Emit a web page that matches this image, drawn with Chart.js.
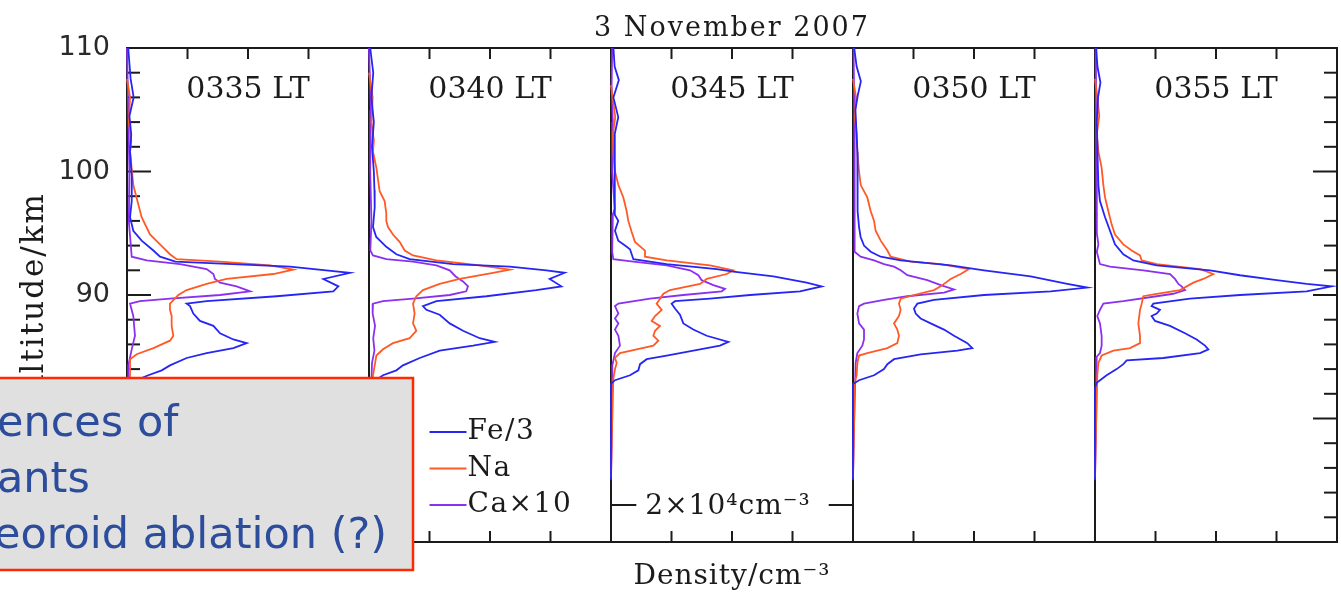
<!DOCTYPE html>
<html>
<head>
<meta charset="utf-8">
<title>3 November 2007</title>
<script src="https://cdn.jsdelivr.net/npm/chart.js@4.4.0/dist/chart.umd.min.js"></script>
<style>
  html, body { margin: 0; padding: 0; background: #fff; }
  #wrap { position: relative; width: 1341px; height: 592px; overflow: hidden; }
</style>
</head>
<body>
<div id="wrap"><canvas id="chart" width="1341" height="592"></canvas></div>
<script>
// values, each point = [altitude km, density cm^-3]
const chartTitle = '3 November 2007';
const panelTimes = ['0335 LT', '0340 LT', '0345 LT', '0350 LT', '0355 LT'];
const species = ['Fe/3', 'Na', 'Ca×10'];
const altTicks = [70, 80, 90, 100, 110];
const densityTicks = [5000, 10000, 15000];
const densityMax = 20000;
const scaleBarText = '2×10⁴cm⁻³';
const xTitle = 'Density/cm⁻³';
const yTitle = 'Altitude/km';
const noteLines = ['ences of', 'ants', 'eoroid ablation (?)'];

const fe0335 = [[110,100],[107.5,300],[106,550],[104.5,200],[103,350],[101.6,250],[99.5,400],[97.6,390],[96.3,250],[95.2,520],[94.4,1210],[93.6,2180],[93.1,2730],[92.7,4000],[92.3,13470],[91.8,18430],[91.3,16230],[90.7,17470],[90.3,17050],[89.9,12370],[89.5,6580],[89.3,4930],[89.1,5210],[88.5,5480],[87.9,6030],[87.5,7140],[86.9,7690],[86.4,8790],[86.1,9890],[85.7,8790],[85.3,6580],[84.9,4930],[84.3,3550],[83.9,2870],[83.5,1760],[83.0,500],[82.5,0],[75,0]];
const na0335 = [[107.5,0],[106,250],[104,150],[102.5,350],[101.6,250],[98.9,520],[96.3,1210],[94.9,1900],[94.1,2730],[93.3,3550],[92.9,4100],[92.7,7690],[92.4,11820],[92.05,13750],[91.7,12090],[91.3,8240],[90.9,6580],[90.4,4930],[90.0,4240],[89.3,3550],[88.8,3550],[88.3,3690],[87.5,3690],[86.7,3830],[86.3,3550],[85.7,2180],[85.2,800],[84.8,250],[83.5,250],[80,100],[75,0]];
const ca0335 = [[110,0],[105,100],[100,200],[96,150],[93.1,390],[92.8,1630],[92.5,4380],[92.1,6580],[91.7,7140],[91.3,7270],[91.0,7690],[90.7,9060],[90.3,10170],[90.0,7690],[89.7,3550],[89.5,1070],[89.3,250],[88.3,520],[86.7,660],[85.6,390],[84.3,110],[80,100],[75,0]];

const fe0340 = [[110,100],[108,350],[106,200],[104,400],[102,250],[100,400],[98.5,450],[97.1,470],[95.5,330],[94.7,600],[93.9,1430],[93.3,2260],[92.9,3360],[92.5,6940],[92.3,11630],[92.0,14660],[91.8,16170],[91.3,14930],[90.7,15900],[90.4,13830],[89.9,9700],[89.5,5570],[89.1,4460],[88.8,4740],[88.4,5840],[87.7,6670],[87.1,7770],[86.5,9150],[86.2,10390],[85.9,8600],[85.5,5840],[84.9,4190],[84.3,2810],[83.9,2260],[83.5,1160],[83.0,400],[82.5,0],[75,0]];
const na0340 = [[108,0],[106,300],[104,200],[102.5,400],[101.6,330],[100.3,610],[98.4,880],[97.6,1290],[96.6,1430],[96.0,1430],[95.5,1570],[94.9,1980],[94.3,2530],[93.6,2950],[93.2,3640],[92.8,5570],[92.4,9150],[92.05,11630],[91.8,10250],[91.3,7490],[90.9,5840],[90.4,4460],[89.9,3910],[89.3,3640],[88.5,3770],[87.7,3640],[87.1,3910],[86.5,3360],[86.1,1980],[85.6,1160],[85.1,610],[84.3,470],[83.5,330],[80,150],[75,0]];
const ca0340 = [[110,0],[105,150],[100,100],[96,200],[93.6,110],[93.2,330],[92.9,1430],[92.7,3640],[92.4,5570],[92.0,6670],[91.5,7160],[91.1,7770],[90.7,8180],[90.3,8040],[90.0,6670],[89.7,3640],[89.5,1160],[89.3,330],[88.5,300],[87.5,500],[86.5,350],[85.5,450],[84.5,250],[80,100],[75,0]];

const fe0345 = [[110,200],[108.5,300],[107.4,650],[106,200],[104.4,600],[103,300],[101.6,330],[98,280],[96.5,330],[96.0,600],[95.2,330],[94.4,600],[94.0,1160],[93.7,1570],[93.3,1710],[92.9,1850],[92.5,4600],[92.1,8730],[91.9,10110],[91.5,13420],[91.0,16170],[90.7,17410],[90.3,15620],[90.0,11490],[89.7,8180],[89.5,5290],[89.3,5010],[88.9,5290],[88.4,5700],[87.7,5980],[87.2,6800],[86.7,7910],[86.2,9700],[85.9,9010],[85.6,7360],[85.1,4600],[84.8,2950],[84.4,2400],[83.9,2260],[83.5,1570],[83.1,330],[82.8,0],[75,0]];
const na0345 = [[107,0],[105.5,200],[104.4,350],[103,150],[101.6,190],[100.0,330],[98.9,610],[97.9,1020],[96.8,1290],[96.0,1430],[95.1,1710],[94.3,1980],[93.6,2810],[93.1,2810],[92.8,4600],[92.4,8180],[92.0,10110],[91.7,9560],[91.3,7910],[90.9,7360],[90.4,4880],[90.1,4330],[89.7,4050],[89.3,3770],[88.8,4190],[88.3,3640],[87.9,3360],[87.5,4050],[87.1,3640],[86.7,3500],[86.3,3910],[85.9,3500],[85.6,2120],[85.3,740],[84.9,330],[84.5,470],[84.0,330],[83.2,190],[80,100],[75.2,0]];
const ca0345 = [[110,100],[107,50],[104,150],[100,100],[97,300],[96.5,150],[93.5,100],[92.9,190],[92.7,1850],[92.4,4600],[92.0,6530],[91.6,7220],[91.2,7490],[90.8,8460],[90.5,9420],[90.3,9150],[90.0,5980],[89.7,3220],[89.3,610],[89.1,330],[88.5,610],[88.1,330],[87.7,610],[87.2,330],[86.7,610],[85.9,740],[85.3,330],[84.3,110],[80,100],[75.2,0]];

const fe0350 = [[110,100],[108.5,300],[107.3,650],[106.2,400],[105,200],[103,300],[101.6,360],[98.5,400],[96.8,360],[95.5,500],[94.7,630],[94.0,910],[93.5,1460],[93.1,2290],[92.8,3940],[92.4,8070],[92.0,10830],[91.5,14680],[90.9,17710],[90.6,19370],[90.3,16340],[90.0,10830],[89.6,6690],[89.3,5320],[88.9,5040],[88.5,5180],[88.1,5590],[87.7,6420],[87.2,7520],[86.7,8350],[86.1,9450],[85.7,9860],[85.5,8620],[85.2,5590],[84.8,3390],[84.4,2840],[84.0,2560],[83.5,1740],[83.1,500],[82.8,0],[75,0]];
const na0350 = [[107.5,0],[106,250],[104.5,150],[103,300],[101.6,360],[100,500],[98.9,640],[97.9,1180],[96.8,1460],[96.0,1740],[95.2,1870],[94.4,2290],[93.6,2840],[93.1,3110],[92.7,4770],[92.5,7250],[92.1,9590],[91.7,8900],[91.3,8070],[90.9,7520],[90.7,7250],[90.4,6690],[90.0,5040],[89.7,3940],[89.3,3800],[88.8,3940],[88.3,3800],[87.7,3390],[87.2,3660],[86.7,3800],[86.1,3660],[85.7,2840],[85.3,1180],[85.1,500],[84.5,360],[83.5,300],[82.9,140],[80,100],[75.2,0]];
const ca0350 = [[110,50],[105,100],[100,150],[96,100],[93.5,150],[93.1,630],[92.8,1740],[92.5,2560],[92.3,3390],[92.0,3940],[91.6,4490],[91.2,6140],[90.8,7250],[90.45,8350],[90.2,7520],[89.9,4490],[89.6,2560],[89.3,910],[89.1,500],[88.5,360],[87.7,500],[87.2,910],[86.4,910],[85.9,770],[85.3,360],[84.5,220],[80,100],[75.2,0]];

const fe0355 = [[110,100],[108.5,200],[107.2,450],[106,250],[104,150],[102,200],[101.6,200],[98.9,280],[97.6,410],[96.3,830],[95.2,1240],[94.1,1650],[93.3,2340],[92.8,3170],[92.4,5100],[92.0,9500],[91.6,11980],[91.2,15010],[90.9,17490],[90.7,19560],[90.3,17490],[90.0,11980],[89.7,7850],[89.3,4820],[89.1,4680],[88.8,5370],[88.5,5100],[88.3,4680],[87.9,4960],[87.5,6200],[86.9,7440],[86.4,8400],[85.9,9090],[85.6,9370],[85.3,8680],[84.9,5650],[84.7,2620],[84.4,2340],[84.0,1790],[83.5,960],[82.9,140],[82.5,0],[75,0]];
const na0355 = [[107.5,0],[106,200],[104.5,350],[103,150],[101.6,280],[100.3,550],[98.9,690],[97.9,830],[96.8,1100],[95.7,1380],[94.9,1650],[94.1,2340],[93.6,3030],[93.2,3720],[92.8,3860],[92.5,5100],[92.1,8680],[91.7,9780],[91.3,8950],[91.0,8130],[90.7,7580],[90.4,7030],[90.1,5100],[89.9,3990],[89.3,3860],[88.8,3720],[87.7,3580],[86.7,3720],[86.1,3720],[85.7,2890],[85.5,1520],[85.1,550],[84.5,280],[83.5,190],[80,100],[75.2,0]];
const ca0355 = [[110,50],[105,80],[100,100],[95,150],[94.1,280],[93.5,150],[92.5,410],[92.3,1240],[92.0,3990],[91.7,6200],[91.3,6610],[90.9,6890],[90.7,7160],[90.4,7440],[90.1,6470],[89.9,5100],[89.5,2340],[89.3,690],[88.8,410],[88.3,190],[87.7,410],[86.7,550],[85.9,550],[85.3,410],[85.0,140],[80,100],[75.2,0]];

const profiles = [
  [fe0335, na0335, ca0335],
  [fe0340, na0340, ca0340],
  [fe0345, na0345, ca0345],
  [fe0350, na0350, ca0350],
  [fe0355, na0355, ca0355]
];

// styles
const lineColors = ['#2626f4', '#ff5a26', '#8c30f0'];
const ink = '#1b1b1b';
const serif = 'DejaVu Serif';

const datasets = [];
profiles.forEach((panel, i) => {
  panel.forEach((pts, j) => {
    datasets.push({
      label: species[j] + ' ' + panelTimes[i],
      data: pts.map(p => ({x: p[1], y: p[0]})),
      xAxisID: 'x' + i,
      yAxisID: 'y',
      borderColor: lineColors[j],
      borderWidth: 1.8,
      pointRadius: 0,
      showLine: true,
      fill: false,
      tension: 0,
      clip: false
    });
  });
});

const scales = {
  y: {
    type: 'linear',
    position: 'left',
    min: 70,
    max: 110,
    afterBuildTicks: s => { s.ticks = altTicks.map(v => ({value: v})); },
    afterFit: s => { s.width = 127; },
    ticks: { font: {family: 'DejaVu Sans', size: 27}, color: '#2a2a2a', padding: 9 },
    grid: { display: false },
    border: { display: false }
  }
};
panelTimes.forEach((t, i) => {
  scales['x' + i] = {
    type: 'linear',
    position: 'bottom',
    stack: 'panels',
    stackWeight: 1,
    min: 0,
    max: densityMax,
    display: false
  };
});

function seg(ctx, x1, y1, x2, y2) {
  ctx.beginPath();
  ctx.moveTo(x1, y1);
  ctx.lineTo(x2, y2);
  ctx.stroke();
}

function put(ctx, text, x, y, font, align, spacing) {
  ctx.font = font;
  ctx.textAlign = align || 'left';
  ctx.textBaseline = 'alphabetic';
  ctx.letterSpacing = (spacing || 0) + 'px';
  ctx.fillText(text, x, y);
}

// frame + inward ticks, drawn under the profiles
const framePlugin = {
  id: 'frame',
  beforeDatasetsDraw(chart) {
    const {ctx, chartArea: a, scales: sc} = chart;
    const ys = sc.y;
    ctx.save();
    ctx.strokeStyle = ink;
    ctx.lineWidth = 2;
    ctx.strokeRect(a.left, a.top, a.right - a.left, a.bottom - a.top);
    panelTimes.forEach((t, i) => {
      const xs = sc['x' + i];
      if (i > 0) seg(ctx, xs.left, a.top, xs.left, a.bottom);
      densityTicks.forEach(v => {
        const px = xs.getPixelForValue(v);
        seg(ctx, px, a.top, px, a.top + 11);
        seg(ctx, px, a.bottom, px, a.bottom - 11);
      });
    });
    for (let alt = ys.min; alt <= ys.max; alt += 2) {
      const py = ys.getPixelForValue(alt);
      const len = altTicks.includes(alt) ? 24 : 13;
      seg(ctx, a.left, py, a.left + len, py);
      seg(ctx, a.right, py, a.right - len, py);
    }
    ctx.restore();
  }
};

// titles, panel labels, legend and scale bar
const textPlugin = {
  id: 'texts',
  afterDatasetsDraw(chart) {
    const {ctx, chartArea: a, scales: sc} = chart;
    const midX = (a.left + a.right) / 2;
    ctx.save();
    ctx.fillStyle = ink;
    put(ctx, chartTitle, midX, 36, '27px ' + serif, 'center', 2);
    panelTimes.forEach((t, i) => {
      const xs = sc['x' + i];
      put(ctx, t, (xs.left + xs.right) / 2, a.top + 50, '30px ' + serif, 'center', 0);
    });
    put(ctx, xTitle, midX, 584, '28px ' + serif, 'center', 1);

    ctx.save();
    ctx.translate(43, (a.top + a.bottom) / 2);
    ctx.rotate(-Math.PI / 2);
    put(ctx, yTitle, 0, 0, '31px ' + serif, 'center', 2);
    ctx.restore();

    // legend inside the second panel
    const lx = sc.x1.getPixelForValue(densityTicks[0]);
    species.forEach((name, k) => {
      const ly = a.bottom - 110 + k * 36.5;
      ctx.strokeStyle = lineColors[k];
      ctx.lineWidth = 2;
      seg(ctx, lx, ly, lx + 37, ly);
      ctx.fillStyle = ink;
      put(ctx, name, lx + 38, ly + 7, '28px ' + serif, 'left', 1.5);
    });

    // 2x10^4 scale bar spanning the third panel
    const bs = sc.x2;
    const by = a.bottom - 37;
    const bc = (bs.left + bs.right) / 2 - 4;
    ctx.font = '28px ' + serif;
    ctx.letterSpacing = '1px';
    const tw = ctx.measureText(scaleBarText).width;
    ctx.strokeStyle = ink;
    ctx.lineWidth = 2;
    seg(ctx, bs.left, by, bc - tw / 2 - 9, by);
    seg(ctx, bc + tw / 2 + 18, by, bs.right, by);
    put(ctx, scaleBarText, bc, by + 9, '28px ' + serif, 'center', 1);
    ctx.restore();
  }
};

// the grey note box laid over the lower left corner
const notePlugin = {
  id: 'note',
  afterDraw(chart) {
    const ctx = chart.ctx;
    ctx.save();
    ctx.fillStyle = '#e0e0e0';
    ctx.fillRect(-3, 378, 416, 192);
    ctx.strokeStyle = '#ff2a00';
    ctx.lineWidth = 2.5;
    ctx.strokeRect(-3, 378, 416, 192);
    ctx.fillStyle = '#2c4c9c';
    noteLines.forEach((line, k) => {
      put(ctx, line, k === 2 ? -6 : -3, 436 + k * 56, '43px DejaVu Sans', 'left', 0);
    });
    ctx.restore();
  }
};

const myChart = new Chart(document.getElementById('chart'), {
  type: 'scatter',
  data: { datasets: datasets },
  options: {
    responsive: false,
    devicePixelRatio: 1,
    animation: false,
    events: [],
    layout: { padding: { left: 0, top: 48, right: 4, bottom: 50 } },
    plugins: { legend: { display: false }, tooltip: { enabled: false }, title: { display: false } },
    scales: scales
  },
  plugins: [framePlugin, textPlugin, notePlugin]
});
</script>
</body>
</html>
